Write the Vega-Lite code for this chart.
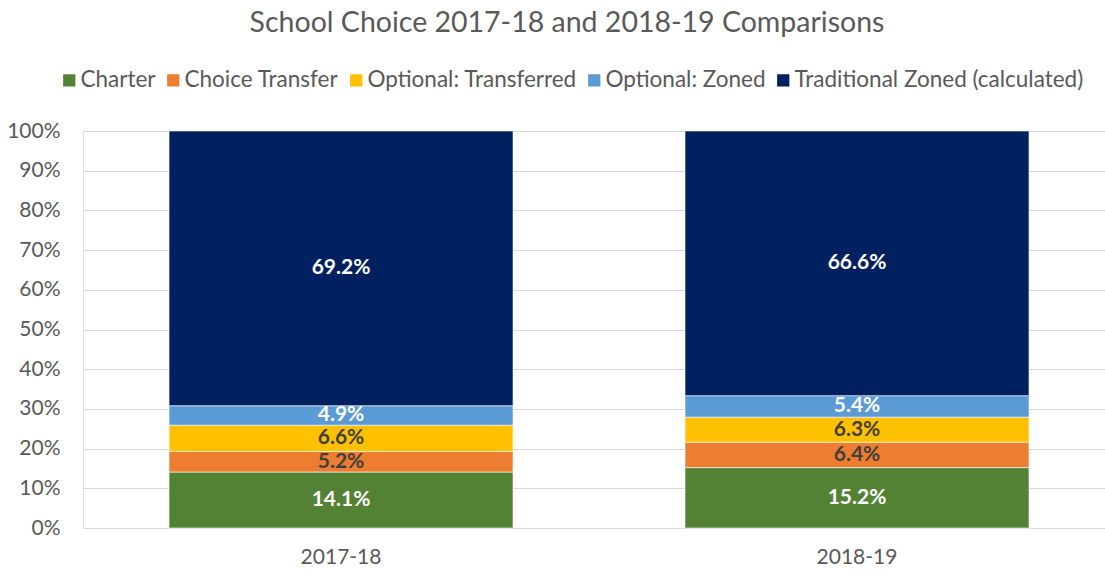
{
  "$schema": "https://vega.github.io/schema/vega-lite/v6.json",
  "width": 1022,
  "height": 397,
  "autosize": {"type": "none"},
  "padding": {"left": 83, "top": 131, "right": 0, "bottom": 46},
  "background": "white",
  "title": {
    "text": "School Choice 2017-18 and 2018-19 Comparisons",
    "font": "Lato",
    "fontSize": 28.5,
    "fontWeight": "normal",
    "color": "#595959",
    "anchor": "middle",
    "frame": "group",
    "dx": -27,
    "offset": 32
  },
  "data": {
    "values": [
      {"year": "2017-18", "series": "Charter", "pct": 0.141},
      {"year": "2017-18", "series": "Choice Transfer", "pct": 0.052},
      {"year": "2017-18", "series": "Optional: Transferred", "pct": 0.066},
      {"year": "2017-18", "series": "Optional: Zoned", "pct": 0.049},
      {"year": "2017-18", "series": "Traditional Zoned (calculated)", "pct": 0.692},
      {"year": "2018-19", "series": "Charter", "pct": 0.152},
      {"year": "2018-19", "series": "Choice Transfer", "pct": 0.064},
      {"year": "2018-19", "series": "Optional: Transferred", "pct": 0.063},
      {"year": "2018-19", "series": "Optional: Zoned", "pct": 0.054},
      {"year": "2018-19", "series": "Traditional Zoned (calculated)", "pct": 0.666}
    ]
  },
  "transform": [
    {"stack": "pct", "groupby": ["year"], "sort": [{"field": "series", "order": "ascending"}], "offset": "normalize", "as": ["y0", "y1"]},
    {"calculate": "(datum.y0 + datum.y1) / 2", "as": "mid"}
  ],
  "config": {
    "axisY": {
      "title": null,
      "format": ".0%",
      "values": [0, 0.1, 0.2, 0.3, 0.4, 0.5, 0.6, 0.7, 0.8, 0.9, 1.0],
      "labelFont": "Lato",
      "labelFontSize": 21,
      "labelColor": "#595959",
      "labelPadding": 23,
      "labelOverlap": false,
      "ticks": false,
      "domain": false,
      "grid": true,
      "gridColor": "#d9d9d9",
      "gridWidth": 1.2
    }
  },
  "encoding": {
    "x": {
      "field": "year",
      "type": "nominal",
      "scale": {"paddingInner": 0.3333, "paddingOuter": 0.157, "align": 0.531},
      "axis": {
        "title": null,
        "labelAngle": 0,
        "labelFont": "Lato",
        "labelFontSize": 21,
        "labelColor": "#595959",
        "labelPadding": 18,
        "ticks": false,
        "domain": false
      }
    },
    "y": {
      "field": "y0",
      "type": "quantitative",
      "scale": {"domain": [0, 1], "nice": false},
      "axis": {
        "title": null,
        "format": ".0%",
        "values": [0, 0.1, 0.2, 0.3, 0.4, 0.5, 0.6, 0.7, 0.8, 0.9, 1.0],
        "labelOverlap": false
      }
    }
  },
  "layer": [
    {
      "mark": {"type": "bar", "stroke": "white", "strokeWidth": 0.6},
      "encoding": {
        "y2": {"field": "y1"},
        "color": {
          "field": "series",
          "type": "nominal",
          "scale": {
            "domain": ["Charter", "Choice Transfer", "Optional: Transferred", "Optional: Zoned", "Traditional Zoned (calculated)"],
            "range": ["#548235", "#ED7D31", "#FFC000", "#5B9BD5", "#002060"]
          },
          "legend": {
            "title": null,
            "orient": "none",
            "legendX": -25,
            "legendY": -62,
            "direction": "horizontal",
            "symbolType": "square",
            "symbolSize": 150,
            "symbolStrokeWidth": 0,
            "labelFont": "Lato",
            "labelFontSize": 22.5,
            "labelColor": "#595959",
            "labelOffset": 0,
            "columnPadding": 6,
            "labelLimit": 400
          }
        }
      }
    },
    {
      "mark": {"type": "text", "font": "Lato", "fontWeight": "bold", "fontSize": 21, "baseline": "middle", "align": "center"},
      "encoding": {
        "y": {
          "field": "mid",
          "type": "quantitative",
          "axis": {
            "title": null,
            "format": ".0%",
            "values": [0, 0.1, 0.2, 0.3, 0.4, 0.5, 0.6, 0.7, 0.8, 0.9, 1.0],
            "labelOverlap": false
          }
        },
        "text": {"field": "pct", "type": "quantitative", "format": ".1%"},
        "color": {
          "condition": {"test": "datum.series === 'Choice Transfer' || datum.series === 'Optional: Transferred'", "value": "#404040"},
          "value": "#ffffff"
        }
      }
    }
  ]
}
